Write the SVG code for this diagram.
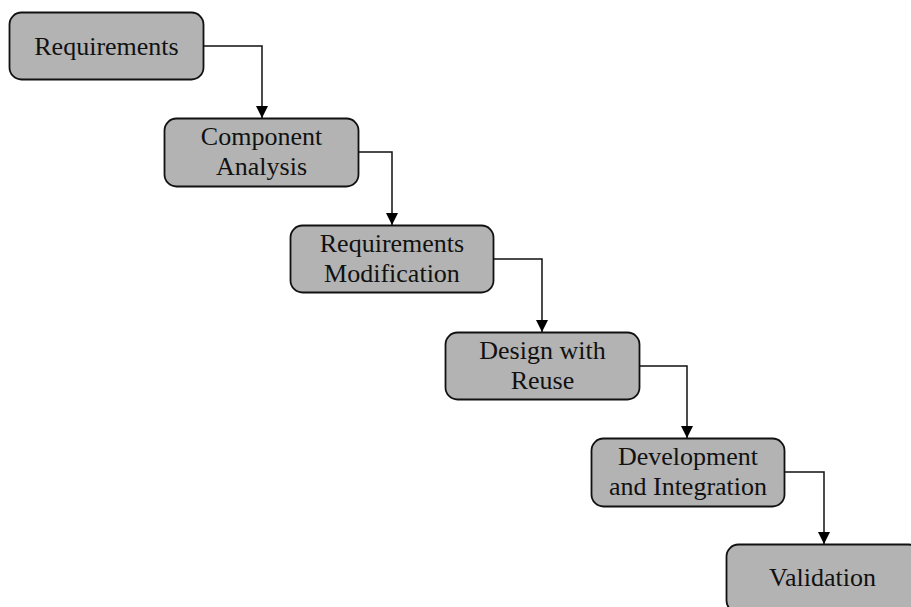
<svg xmlns="http://www.w3.org/2000/svg" width="911" height="607" viewBox="0 0 911 607">
  <style>
    .box { fill: #b3b3b3; stroke: #111; stroke-width: 1.8; }
    .lbl { font-family: "Liberation Serif", "Times New Roman", serif; font-size: 26px; fill: #111; text-anchor: middle; }
    .wire { fill: none; stroke: #111; stroke-width: 1.5; }
  </style>
  <defs>
    <marker id="arrow" markerWidth="12" markerHeight="12" refX="12" refY="6" orient="auto" markerUnits="userSpaceOnUse">
      <path d="M0,0 L12,6 L0,12 Z" fill="#000"/>
    </marker>
  </defs>
  <rect width="911" height="607" fill="#fff"/>

  <g id="connectors">
    <path class="wire" d="M203,46 H262 V118" marker-end="url(#arrow)"/>
    <path class="wire" d="M358,152 H392 V225" marker-end="url(#arrow)"/>
    <path class="wire" d="M493,259 H542 V332" marker-end="url(#arrow)"/>
    <path class="wire" d="M639,366 H687 V438" marker-end="url(#arrow)"/>
    <path class="wire" d="M784,472 H824 V544" marker-end="url(#arrow)"/>
  </g>

  <g id="requirements">
    <rect class="box" x="9.5" y="12.5" width="194" height="67" rx="12"/>
    <text class="lbl" x="106.5" y="55">Requirements</text>
  </g>
  <g id="component-analysis">
    <rect class="box" x="164.5" y="118.5" width="194" height="68" rx="12"/>
    <text class="lbl" x="261.5" y="145">Component</text>
    <text class="lbl" x="261.5" y="175">Analysis</text>
  </g>
  <g id="requirements-modification">
    <rect class="box" x="290.5" y="225.5" width="203" height="67" rx="12"/>
    <text class="lbl" x="392" y="252">Requirements</text>
    <text class="lbl" x="392" y="282">Modification</text>
  </g>
  <g id="design-with-reuse">
    <rect class="box" x="445.5" y="332.5" width="194" height="67" rx="12"/>
    <text class="lbl" x="542.5" y="359">Design with</text>
    <text class="lbl" x="542.5" y="389">Reuse</text>
  </g>
  <g id="development-integration">
    <rect class="box" x="591.5" y="438.5" width="193" height="68" rx="12"/>
    <text class="lbl" x="688" y="465">Development</text>
    <text class="lbl" x="688" y="495">and Integration</text>
  </g>
  <g id="validation">
    <rect class="box" x="726.5" y="544.5" width="194" height="68" rx="12"/>
    <text class="lbl" x="822.5" y="586">Validation</text>
  </g>
</svg>
